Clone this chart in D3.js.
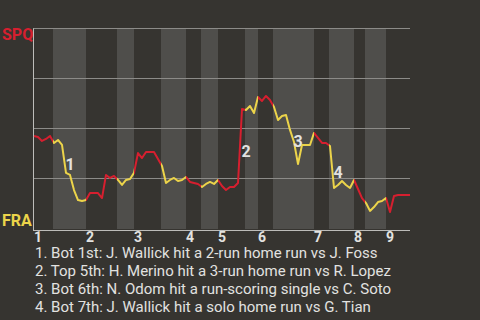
<!DOCTYPE html>
<html>
<head>
<meta charset="utf-8">
<script src="https://cdn.jsdelivr.net/npm/d3@7"></script>
<style>
  html, body { margin: 0; padding: 0; background: #363430; }
  svg { display: block; font-family: Roboto, "Noto Sans", sans-serif; }
</style>
</head>
<body>
<svg id="chart" width="480" height="320"></svg>
<script>
// Teams: away (top of the scale) and home (bottom of the scale)
const teams = ["SPQ", "FRA"];

// SPQ win probability after each plate appearance
const winProb = [
  0.463, 0.458, 0.438, 0.448, 0.463, 0.428, 0.443, 0.418, 0.279, 0.269,
  0.194, 0.144, 0.139, 0.144, 0.179, 0.179, 0.179, 0.154, 0.269, 0.254,
  0.264, 0.244, 0.219, 0.244, 0.249, 0.279, 0.378, 0.353, 0.383, 0.383,
  0.383, 0.348, 0.313, 0.229, 0.244, 0.254, 0.239, 0.244, 0.259, 0.234,
  0.229, 0.224, 0.209, 0.224, 0.234, 0.224, 0.244, 0.214, 0.194, 0.209,
  0.209, 0.229, 0.597, 0.592, 0.612, 0.577, 0.657, 0.637, 0.662, 0.642,
  0.607, 0.542, 0.562, 0.567, 0.493, 0.433, 0.323, 0.418, 0.418, 0.418,
  0.478, 0.453, 0.428, 0.428, 0.413, 0.204, 0.219, 0.239, 0.219, 0.204,
  0.244, 0.199, 0.154, 0.129, 0.090, 0.109, 0.134, 0.139, 0.154, 0.085,
  0.164, 0.169, 0.169, 0.169, 0.169
];

// Plate-appearance index where each inning (top half) begins
const inningStarts = [0, 13, 25, 38, 46, 56, 70, 80, 88];
const inningLabels = ["1", "2", "3", "4", "5", "6", "7", "8", "9"];
// Where each bottom half begins (no bottom of the 9th)
const bottomStarts = [4.75, 20.75, 31.75, 41.75, 52.75, 59.75, 73.75, 82.75];

// Key plays marked on the line
const keyEvents = [8, 52, 65, 75];
const keyLabels = ["1", "2", "3", "4"];
const keyNotes = [
  "1. Bot 1st: J. Wallick hit a 2-run home run vs J. Foss",
  "2. Top 5th: H. Merino hit a 3-run home run vs R. Lopez",
  "3. Bot 6th: N. Odom hit a run-scoring single vs C. Soto",
  "4. Bot 7th: J. Wallick hit a solo home run vs G. Tian"
];

const colors = { away: "#d61f2f", home: "#ecd44a", band: "#4f4e4b", grid: "#8c8b88", text: "#e2e2e0" };

const svg = d3.select("#chart");
const lastEvent = winProb.length - 1;

const x = d3.scaleLinear().domain([-0.25, lastEvent]).range([33, 410]);
const y = d3.scaleLinear().domain([0, 1]).range([229, 28]);
const crisp = v => Math.floor(v) + 0.5;

// Half-inning spans
const halves = [];
inningStarts.forEach((s, k) => {
  const end = k + 1 < inningStarts.length ? inningStarts[k + 1] : lastEvent;
  const b = k < bottomStarts.length ? bottomStarts[k] : end;
  halves.push({ side: "top", x0: k === 0 ? x.domain()[0] : s, x1: b });
  if (k < bottomStarts.length) halves.push({ side: "bottom", x0: b, x1: end });
});

svg.append("rect").attr("width", 480).attr("height", 320).attr("fill", "#363430");

// Shaded bottom halves
svg.append("g").selectAll("rect")
  .data(halves.filter(h => h.side === "bottom"))
  .join("rect")
  .attr("x", d => Math.round(x(d.x0)))
  .attr("width", d => Math.round(x(d.x1)) - Math.round(x(d.x0)))
  .attr("y", y(1))
  .attr("height", y(0) - y(1))
  .attr("fill", colors.band);

// Horizontal grid lines
svg.append("g").selectAll("line")
  .data([0.25, 0.5, 0.75, 1])
  .join("line")
  .attr("x1", x.range()[0]).attr("x2", x.range()[1])
  .attr("y1", d => crisp(y(d))).attr("y2", d => crisp(y(d)))
  .attr("stroke", colors.grid).attr("stroke-width", 1);

// Axes frame: left edge and baseline
svg.append("line")
  .attr("x1", crisp(x.range()[0])).attr("x2", crisp(x.range()[0]))
  .attr("y1", crisp(y(1))).attr("y2", crisp(y(0)) + 1)
  .attr("stroke", "#bdbcb9").attr("stroke-width", 1);
svg.append("line")
  .attr("x1", x.range()[0]).attr("x2", x.range()[1])
  .attr("y1", crisp(y(0)) + 1).attr("y2", crisp(y(0)) + 1)
  .attr("stroke", "#bdbcb9").attr("stroke-width", 1);

// Clip regions so the line takes the batting team's colour
const defs = svg.append("defs");
["top", "bottom"].forEach(side => {
  defs.append("clipPath").attr("id", "clip-" + side)
    .selectAll("rect")
    .data(halves.filter(h => h.side === side))
    .join("rect")
    .attr("x", d => x(d.x0) - (d.x0 === x.domain()[0] ? 5 : 0))
    .attr("width", d => x(d.x1) - x(d.x0) + (d.x0 === x.domain()[0] ? 5 : 0) + (d.x1 === lastEvent ? 5 : 0))
    .attr("y", 0).attr("height", 320);
});

const line = d3.line().x((d, i) => x(i)).y(d => y(d));
[["top", colors.away], ["bottom", colors.home]].forEach(([side, c]) => {
  svg.append("path")
    .datum(winProb)
    .attr("d", line)
    .attr("fill", "none")
    .attr("stroke", c)
    .attr("stroke-width", 2)
    .attr("stroke-linejoin", "round")
    .attr("clip-path", `url(#clip-${side})`);
});

// Key play markers
svg.append("g").selectAll("text")
  .data(keyEvents)
  .join("text")
  .attr("x", d => x(d) + 4)
  .attr("y", d => (y(winProb[d - 1]) + y(winProb[d])) / 2 + 11)
  .attr("text-anchor", "middle")
  .attr("font-size", 16).attr("font-weight", "bold")
  .attr("fill", colors.text)
  .text((d, i) => keyLabels[i]);

// Team labels at each end of the scale
svg.append("text").attr("x", 2).attr("y", 40)
  .attr("font-size", 16).attr("font-weight", "bold")
  .attr("fill", colors.away).text(teams[0]);
svg.append("text").attr("x", 2).attr("y", 226)
  .attr("font-size", 16).attr("font-weight", "bold")
  .attr("fill", colors.home).text(teams[1]);

// Inning numbers
svg.append("g").selectAll("text")
  .data(inningStarts)
  .join("text")
  .attr("x", d => x(d) + 4)
  .attr("y", 242)
  .attr("text-anchor", "middle")
  .attr("font-size", 14).attr("font-weight", "bold")
  .attr("fill", colors.text)
  .text((d, i) => inningLabels[i]);

// Key play descriptions
svg.append("g").selectAll("text")
  .data(keyNotes)
  .join("text")
  .attr("x", 35)
  .attr("y", (d, i) => 258 + i * 17.9)
  .attr("font-size", 15)
  .attr("fill", colors.text)
  .text(d => d);
</script>
</body>
</html>
